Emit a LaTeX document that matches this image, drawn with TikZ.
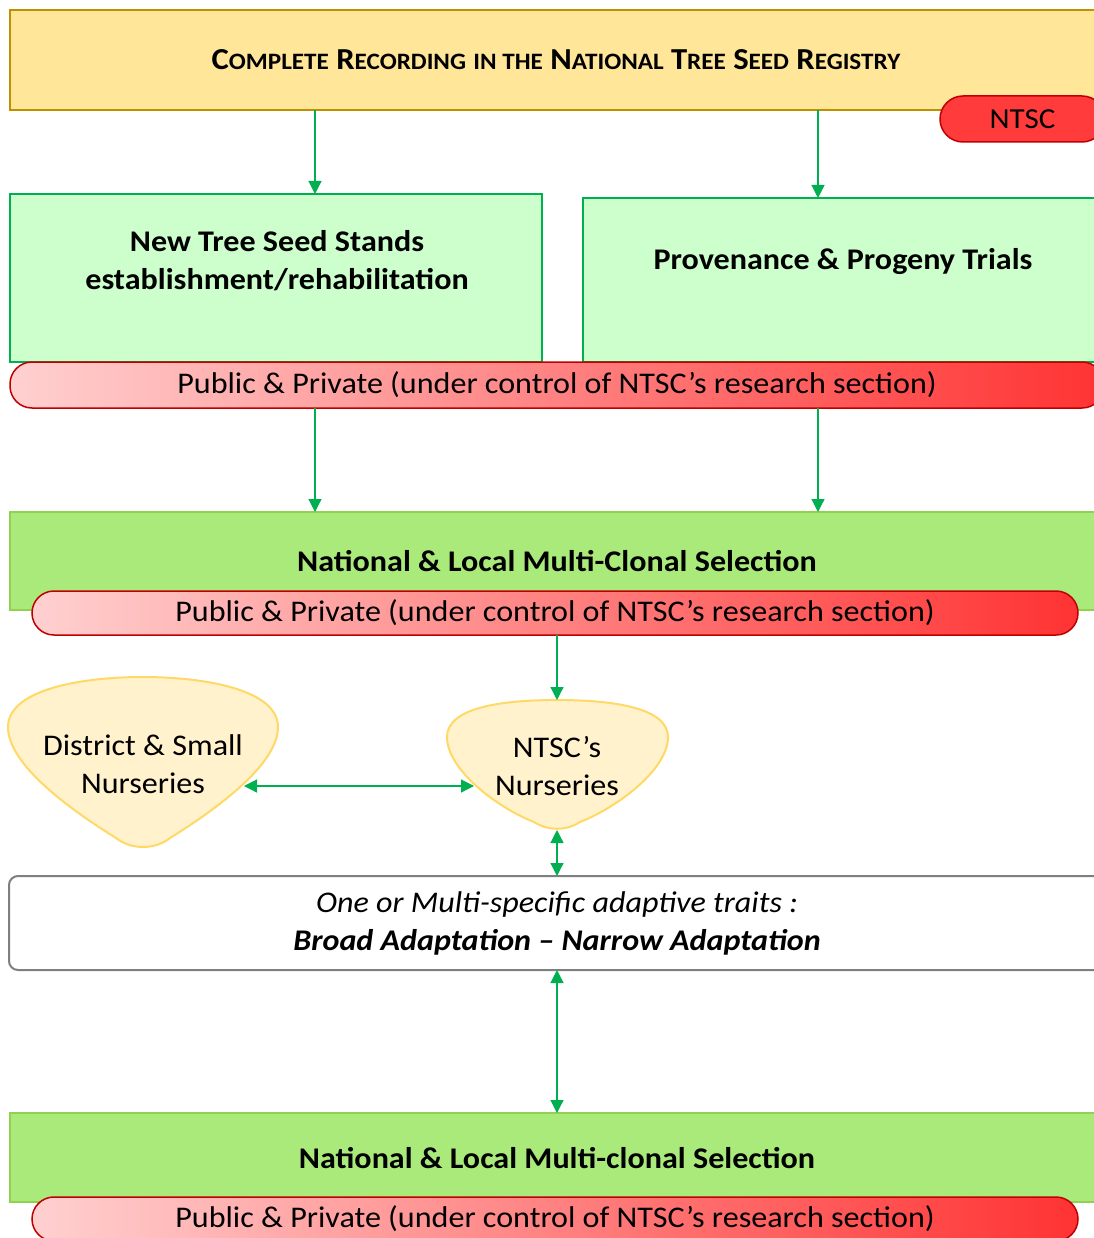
\documentclass[tikz,border=0pt]{standalone}
\usepackage{fontspec}
\setmainfont{Carlito}[FakeStretch=1.07]
\usetikzlibrary{arrows.meta}
\definecolor{topfill}{HTML}{FFE699}
\definecolor{topdraw}{HTML}{BF9000}
\definecolor{ntscfill}{HTML}{FF3B3B}
\definecolor{darkred}{HTML}{C00000}
\definecolor{lgreen}{HTML}{CCFFCC}
\definecolor{ggreen}{HTML}{00B050}
\definecolor{pinkL}{HTML}{FFD0D0}
\definecolor{redR}{HTML}{FF3333}
\definecolor{selfill}{HTML}{A9EA7A}
\definecolor{seldraw}{HTML}{92D050}
\definecolor{nursfill}{HTML}{FFF2CC}
\definecolor{nursdraw}{HTML}{FFD966}
\definecolor{boxgray}{HTML}{7F7F7F}
\newcommand{\SCw}[2]{{\fontsize{30.5}{36}\selectfont #1}{\fontsize{23.5}{28}\selectfont #2}}
\newcommand{\SCs}[1]{{\fontsize{23.5}{28}\selectfont #1}}
\begin{document}
\begin{tikzpicture}[x=1pt,y=-1pt,
  every node/.style={inner sep=0pt, outer sep=0pt},
  topbox/.style={draw=topdraw, fill=topfill, line width=2pt, font=\bfseries\fontsize{30.5}{36}\selectfont},
  ntscpill/.style={draw=darkred, fill=ntscfill, line width=1.5pt, rounded corners=23pt, font=\fontsize{29}{34}\selectfont},
  greenbox/.style={draw=ggreen, fill=lgreen, line width=2pt},
  boldtxt/.style={align=center, font=\bfseries\fontsize{30}{38}\selectfont},
  gradpill/.style={draw=darkred, line width=1.5pt, rounded corners=22pt, left color=pinkL, right color=redR, font=\fontsize{30}{34}\selectfont},
  selbox/.style={draw=seldraw, fill=selfill, line width=1.5pt},
  nurs/.style={draw=nursdraw, fill=nursfill, line width=2pt},
  nurstxt/.style={align=center, font=\fontsize{30}{38}\selectfont},
  whitebox/.style={draw=boxgray, fill=white, line width=2pt, rounded corners=9pt, align=center, font=\fontsize{30}{38}\selectfont},
  arr/.style={draw=ggreen, line width=1.2pt, -{Triangle[length=13pt,width=13pt]}},
  darr/.style={draw=ggreen, line width=1.2pt, {Triangle[length=13pt,width=13pt]}-{Triangle[length=13pt,width=13pt]}}
]
\useasboundingbox (0,0) rectangle (1093,1238);
\fill[white] (0,0) rectangle (1093,1238);
\coordinate (cA) at (315,0);
\coordinate (cB) at (818,0);
\coordinate (cC) at (557,0);

% top box
\node[topbox, minimum width=1092, minimum height=100, anchor=north west] (reg) at (10,10)
 {\SCw{C}{OMPLETE} \SCw{R}{ECORDING} \SCs{IN THE} \SCw{N}{ATIONAL} \SCw{T}{REE} \SCw{S}{EED} \SCw{R}{EGISTRY}};
\node[ntscpill, minimum width=165, minimum height=46, anchor=west] (ntsc) at (940,119) {NTSC};

% green boxes
\node[greenbox, minimum width=532, minimum height=168, anchor=north west] (stands) at (10,194) {};
\node[boldtxt] (standst) at (277,261) {New Tree Seed Stands\\establishment/rehabilitation};
\node[greenbox, minimum width=522, minimum height=164, anchor=north west] (trials) at (583,198) {};
\node[boldtxt] (trialst) at (843,262) {Provenance \& Progeny Trials};

% pill 1
\node[gradpill, minimum width=1094, minimum height=46, anchor=north west] (pp1) at (10,362)
 {\raisebox{-2pt}{Public \& Private (under control of NTSC’s research section)}};

% selection 1
\node[selbox, minimum width=1094, minimum height=98, anchor=north west] (sel1) at (10,512) {};
\node[font=\bfseries\fontsize{30}{36}\selectfont] (sel1t) at (557,561) {National \& Local Multi-Clonal Selection};
\node[gradpill, minimum width=1046, minimum height=44, anchor=north west] (pp2) at (32,591)
 {\raisebox{-2pt}{Public \& Private (under control of NTSC’s research section)}};

% nurseries
\path[nurs] (8,727) .. controls (8,690) and (80,677) .. (143,677)
  .. controls (206,677) and (278,690) .. (278,727)
  .. controls (278,765) and (215,810) .. (170,838)
  .. controls (155,850) and (131,850) .. (116,838)
  .. controls (71,810) and (8,765) .. (8,727) -- cycle;
\node[nurstxt] (dist) at (143,764) {District \& Small\\Nurseries};
\path[nurs] (447,737) .. controls (447,708) and (500,700) .. (557,700)
  .. controls (614,700) and (668,708) .. (668,737)
  .. controls (668,770) and (616,808) .. (580,822)
  .. controls (566,831) and (548,831) .. (534,822)
  .. controls (498,808) and (447,770) .. (447,737) -- cycle;
\node[nurstxt] (ntscn) at (557,766) {NTSC’s\\Nurseries};
\coordinate (distR) at (244,786);
\coordinate (ntscnL) at (474,786);
\coordinate (ntscnT) at (557,700);
\coordinate (ntscnB) at (557,830);

% traits box
\node[whitebox, minimum width=1096, minimum height=94, anchor=north west] (traits) at (9,876)
 {\itshape One or Multi-specific adaptive traits :\\\bfseries\itshape Broad Adaptation – Narrow Adaptation};

% selection 2
\node[selbox, minimum width=1094, minimum height=89, anchor=north west] (sel2) at (10,1113) {};
\node[font=\bfseries\fontsize{30}{36}\selectfont] (sel2t) at (557,1158) {National \& Local Multi-clonal Selection};
\node[gradpill, minimum width=1046, minimum height=44, anchor=north west] (pp3) at (32,1197)
 {\raisebox{-2pt}{Public \& Private (under control of NTSC’s research section)}};

% arrows
\draw[arr] (reg.south -| cA) -- (stands.north -| cA);
\draw[arr] (reg.south -| cB) -- (trials.north -| cB);
\draw[arr] (pp1.south -| cA) -- (sel1.north -| cA);
\draw[arr] (pp1.south -| cB) -- (sel1.north -| cB);
\draw[arr] (pp2.south -| cC) -- (ntscnT);
\draw[darr] (distR) -- (ntscnL);
\draw[darr] (ntscnB) -- (traits.north -| cC);
\draw[darr] (traits.south -| cC) -- (sel2.north -| cC);
\end{tikzpicture}
\end{document}
